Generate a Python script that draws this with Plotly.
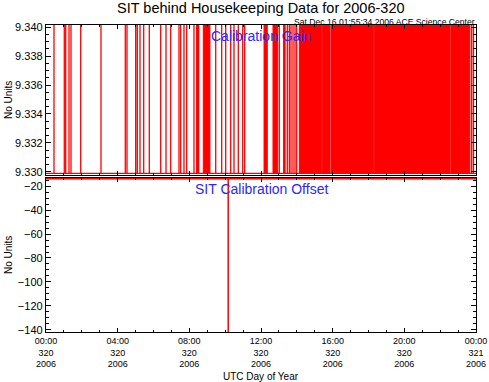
import plotly.graph_objects as go

# ---------------- data ----------------
x_tick_hours = [0, 4, 8, 12, 16, 20, 24]
x_tick_text = ["00:00<br>320<br>2006", "04:00<br>320<br>2006", "08:00<br>320<br>2006",
               "12:00<br>320<br>2006", "16:00<br>320<br>2006", "20:00<br>320<br>2006",
               "00:00<br>321<br>2006"]

# Calibration gain: toggles between a low level and a high level (above plot range)
gain_low = 9.3299
gain_high = 9.3405
gain_spike_hours = [0.447, 1.021, 1.100, 1.284, 1.395, 1.937, 3.070, 4.426, 4.521,
                    5.006, 5.096, 5.246, 5.453, 5.766, 6.402, 6.698, 6.960, 7.423,
                    7.518, 7.702, 7.853, 8.260, 8.411, 8.467, 8.523, 9.472, 9.806,
                    10.030, 10.309, 10.493, 10.733, 10.979, 11.090, 13.021, 13.267,
                    13.340, 13.468, 13.580, 13.674, 13.786, 13.898, 13.993, 23.76, 23.86]
# periods of very rapid toggling (every sample), appearing as solid red
gain_dense_blocks = [(8.78, 9.15), (12.17, 12.35), (12.67, 12.93), (14.14, 15.39),
                     (15.44, 15.85), (15.91, 18.27), (18.32, 22.55), (22.60, 23.66)]

# Calibration offset: constant level with one dip
offset_level = -14.0
offset_dip_hour = 10.17
offset_dip_value = -150.0

title_text = "SIT behind Housekeeping Data for 2006-320"
stamp_text = "Sat Dec 16 01:55:34 2006 ACE Science Center"

RED = "#ff0000"
BLUE = "#2828ff"
FONT = "Liberation Sans"

# ---------------- build traces ----------------
gx, gy = [0.0], [gain_low]
for t in gain_spike_hours:
    gx += [t, t, t]
    gy += [gain_low, gain_high, gain_low]
gx.append(24.0)
gy.append(gain_low)

bx, by = [], []
for s, e in gain_dense_blocks:
    bx += [s, s, e, e, s, None]
    by += [gain_low, gain_high, gain_high, gain_low, gain_low, None]

ox = [0.0, offset_dip_hour, offset_dip_hour, offset_dip_hour, 24.0]
oy = [offset_level, offset_level, offset_dip_value, offset_level, offset_level]

fig = go.Figure()
fig.add_trace(go.Scatter(x=bx, y=by, mode="lines", fill="toself", fillcolor=RED,
                         line=dict(color=RED, width=1), xaxis="x2", yaxis="y2",
                         hoverinfo="skip"))
fig.add_trace(go.Scatter(x=gx, y=gy, mode="lines", line=dict(color=RED, width=1.3),
                         xaxis="x2", yaxis="y2"))
fig.add_trace(go.Scatter(x=ox, y=oy, mode="lines", line=dict(color=RED, width=1.5),
                         xaxis="x", yaxis="y"))

axis_common = dict(showline=True, linecolor="black", linewidth=1.3, mirror="allticks",
                   ticks="inside", tickcolor="black", showgrid=False, zeroline=False,
                   automargin=False)

bot_dom = [0, 0.5016]
top_dom = [0.5114, 1.0]

fig.update_layout(
    width=489, height=382,
    margin=dict(l=46, r=13, t=25, b=50, autoexpand=False),
    paper_bgcolor="white", plot_bgcolor="white",
    showlegend=False,
    font=dict(family=FONT, color="black"),
    xaxis=dict(domain=[0, 1], anchor="y", range=[0, 24], tickvals=x_tick_hours,
               ticktext=x_tick_text, ticklen=4, tickfont=dict(size=9),
               minor=dict(dtick=1, ticks="inside", ticklen=2, tickcolor="black"),
               **axis_common),
    xaxis2=dict(domain=[0, 1], anchor="y2", range=[0, 24], matches="x",
                tickvals=x_tick_hours, showticklabels=False, ticklen=4,
                minor=dict(dtick=1, ticks="inside", ticklen=2, tickcolor="black"),
                **axis_common),
    yaxis=dict(domain=bot_dom, anchor="x", range=[-141.7, -13.3], tick0=0, dtick=20,
               ticklen=5, tickfont=dict(size=11),
               minor=dict(dtick=5, ticks="inside", ticklen=3, tickcolor="black"),
               **axis_common),
    yaxis2=dict(domain=top_dom, anchor="x2", range=[9.32979, 9.34014], tick0=9.330,
                dtick=0.002, tickformat=".3f", ticklen=5, tickfont=dict(size=11),
                minor=dict(dtick=0.0005, ticks="inside", ticklen=3, tickcolor="black"),
                **axis_common),
)

annots = [
    dict(text=title_text, x=0.5, y=1, xref="paper", yref="paper", xanchor="center",
         yanchor="bottom", yshift=7.5, borderpad=0, showarrow=False,
         font=dict(size=14.5)),
    dict(text=stamp_text, x=1, y=1, xref="paper", yref="paper", xanchor="right",
         yanchor="bottom", yshift=-3.5, borderpad=0, showarrow=False,
         font=dict(size=8.6)),
    dict(text="Calibration Gain", x=0.5, y=1, xref="paper", yref="paper",
         xanchor="center", yanchor="top", yshift=-1, showarrow=False,
         font=dict(size=14, color=BLUE)),
    dict(text="SIT Calibration Offset", x=0.5, y=bot_dom[1], xref="paper", yref="paper",
         xanchor="center", yanchor="top", yshift=-1, showarrow=False,
         font=dict(size=14, color=BLUE)),
    dict(text="No Units", x=0, y=(top_dom[0] + top_dom[1]) / 2, xref="paper",
         yref="paper", xanchor="center", yanchor="middle", xshift=-38, textangle=-90,
         showarrow=False, font=dict(size=10)),
    dict(text="No Units", x=0, y=(bot_dom[0] + bot_dom[1]) / 2, xref="paper",
         yref="paper", xanchor="center", yanchor="middle", xshift=-38, textangle=-90,
         showarrow=False, font=dict(size=10)),
    dict(text="UTC Day of Year", x=0.5, y=0, xref="paper", yref="paper",
         xanchor="center", yanchor="middle", yshift=-44, showarrow=False,
         font=dict(size=10)),
]
fig.update_layout(annotations=annots)

fig.write_html("out.html", config={"displayModeBar": False},
               post_script="document.body.style.margin='0';"
                           "document.body.style.overflow='hidden';")
